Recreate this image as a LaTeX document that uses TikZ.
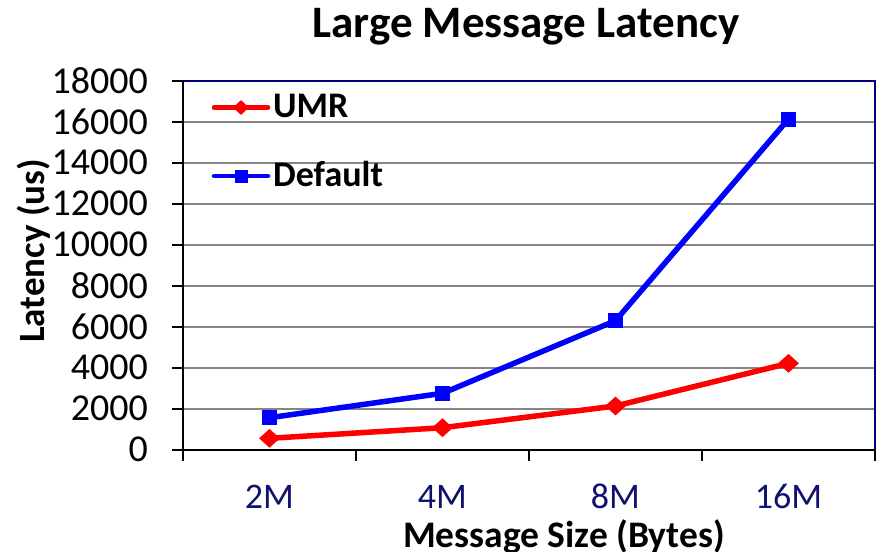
\documentclass[tikz,border=0pt]{standalone}
\usepackage{fontspec}
\setmainfont{Carlito}
\usetikzlibrary{shapes.geometric,calc}
\definecolor{navy}{RGB}{0,0,128}
\definecolor{tickblue}{RGB}{16,16,110}
\definecolor{gridgray}{RGB}{134,134,134}
\tikzset{
  gridline/.style={draw=gridgray, line width=2pt},
  axisline/.style={draw=black, line width=2pt},
  frameline/.style={draw=navy, line width=1.6pt},
  umrline/.style={draw=red, line width=5.5pt, line join=round},
  defline/.style={draw=blue, line width=5.5pt, line join=round},
  umrmark/.style={diamond, fill=red, inner sep=0pt, minimum width=21pt, minimum height=19pt},
  defmark/.style={rectangle, fill=blue, inner sep=0pt, minimum size=15pt},
  umrkey/.style={diamond, fill=red, inner sep=0pt, minimum width=16pt, minimum height=15pt},
  defkey/.style={rectangle, fill=blue, inner sep=0pt, minimum size=13pt},
  ylab/.style={anchor=east, font=\fontsize{38}{42}\selectfont, inner sep=0pt},
  xlab/.style={anchor=base, font=\fontsize{36}{40}\selectfont, text=tickblue, inner sep=0pt},
  keytext/.style={anchor=base west, font=\fontsize{36}{40}\selectfont\bfseries, inner sep=0pt},
}
\begin{document}
\begin{tikzpicture}[x=1pt, y=-1pt]
\useasboundingbox (0,0) rectangle (879,552);
\clip (0,0) rectangle (879,552);

% title
\node[anchor=base, font=\fontsize{45}{50}\selectfont\bfseries, inner sep=0pt] (title) at (526,37) {Large Message Latency};

% horizontal gridlines
\foreach \k in {1,...,8} {
  \draw[gridline] (183,{449.5-\k*40.98}) -- (875,{449.5-\k*40.98});
}
% plot frame (top and right)
\draw[frameline] (183,80.7) -- (875,80.7) -- (875,449.5);

% axes
\draw[axisline] (183,80) -- (183,449.5);
\draw[axisline] (172,449.5) -- (875,449.5);
\foreach \k in {0,...,9} {
  \draw[axisline] (172,{449.5-\k*40.98}) -- (183,{449.5-\k*40.98});
}
\foreach \x in {183,356,529,702,875} {
  \draw[axisline] (\x,449.5) -- (\x,461);
}

% y tick labels
\foreach \k/\v in {0/0,1/2000,2/4000,3/6000,4/8000,5/10000,6/12000,7/14000,8/16000,9/18000} {
  \node[ylab] (yl\k) at (148,{449.5-\k*40.98}) {\v};
}

% x tick labels
\node[xlab] (x1) at (269.5,508) {2M};
\node[xlab] (x2) at (442.5,508) {4M};
\node[xlab] (x3) at (615.5,508) {8M};
\node[xlab] (x4) at (788.5,508) {16M};

% axis titles
\node[anchor=base, font=\fontsize{37.5}{42}\selectfont\bfseries, inner sep=0pt] (xtitle) at (564,547) {Message Size (Bytes)};
\node[rotate=90, font=\fontsize{37}{41}\selectfont\bfseries, inner sep=0pt] (ytitle) at (34,251) {Latency (us)};

% data points
\coordinate (u1) at (269.5,438.3);
\coordinate (u2) at (442.5,427.7);
\coordinate (u3) at (615.5,406.0);
\coordinate (u4) at (788.5,363.3);
\coordinate (d1) at (269.5,417.7);
\coordinate (d2) at (442.5,393.3);
\coordinate (d3) at (615.5,320.7);
\coordinate (d4) at (788.5,119.0);

% series
\draw[defline] (d1) -- (d2) -- (d3) -- (d4);
\draw[umrline] (u1) -- (u2) -- (u3) -- (u4);
\foreach \i in {1,...,4} {
  \node[defmark] (dm\i) at (d\i) {};
  \node[umrmark] (um\i) at (u\i) {};
}

% legend
\coordinate (ka) at (214,107.5);
\coordinate (kb) at (268,107.5);
\coordinate (kc) at (214,176);
\coordinate (kd) at (268,176);
\draw[umrline, line width=4.5pt, line cap=round] (ka) -- (kb);
\node[umrkey] (umrkey) at ($(ka)!0.5!(kb)$) {};
\draw[defline, line width=4.5pt, line cap=round] (kc) -- (kd);
\node[defkey] (defkey) at ($(kc)!0.5!(kd)$) {};
\node[keytext] (umrtext) at (273,117) {UMR};
\node[keytext] (deftext) at (273,186) {Default};
\end{tikzpicture}
\end{document}
